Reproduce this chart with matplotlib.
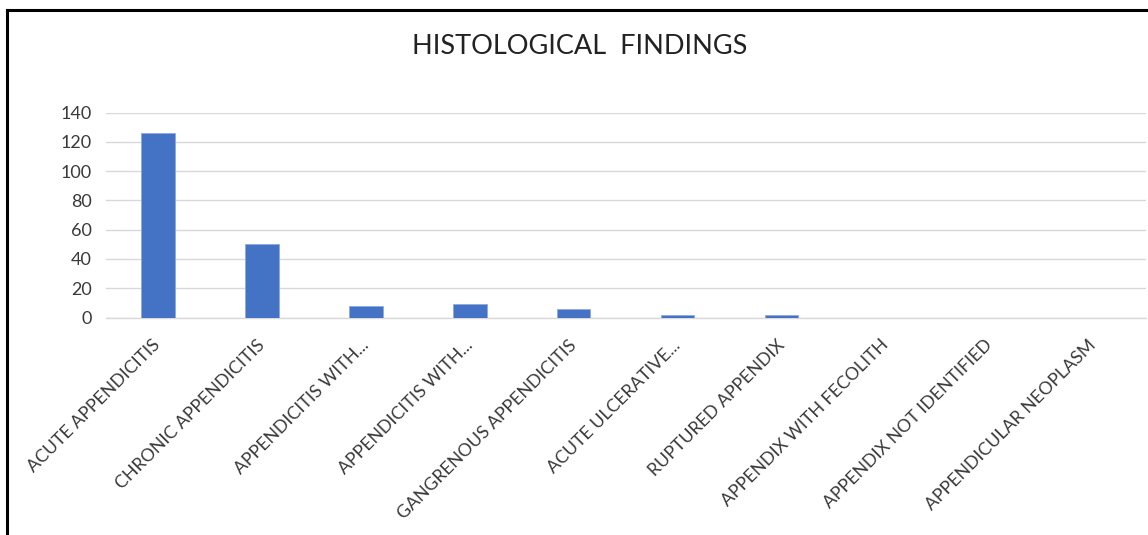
import matplotlib
matplotlib.use("Agg")
import matplotlib.pyplot as plt
from matplotlib.lines import Line2D

plt.rcParams["font.family"] = ["Lato", "DejaVu Sans"]

# histological findings (count of cases)
categories = [
    "ACUTE APPENDICITIS",
    "CHRONIC APPENDICITIS",
    "APPENDICITIS WITH...",
    "APPENDICITIS WITH...",
    "GANGRENOUS APPENDICITIS",
    "ACUTE ULCERATIVE...",
    "RUPTURED APPENDIX",
    "APPENDIX WITH FECOLITH",
    "APPENDIX NOT IDENTIFIED",
    "APPENDICULAR NEOPLASM",
]
counts = [126, 50, 8, 9, 6, 2, 2, 0, 0, 0]
y_ticks = [0, 20, 40, 60, 80, 100, 120, 140]

BAR_COLOR = "#4472C4"
GRID_COLOR = "#D9D9D9"
TEXT_COLOR = "#3A3A3A"

fig = plt.figure(figsize=(11.48, 5.35), dpi=100)
ax = fig.add_axes([0.0923, 0.4065, 0.9057, 0.3832])

x = list(range(len(categories)))
ax.bar(x, counts, width=0.32, color=BAR_COLOR, edgecolor="#8FAADC", linewidth=0.6, zorder=3)

ax.set_xlim(-0.5, len(categories) - 0.5)
ax.set_ylim(0, 140)
ax.set_yticks(y_ticks)
ax.yaxis.grid(True, color=GRID_COLOR, linewidth=1.0, zorder=0)
ax.set_axisbelow(True)

for side in ("top", "right", "left"):
    ax.spines[side].set_visible(False)
ax.spines["bottom"].set_color(GRID_COLOR)
ax.spines["bottom"].set_linewidth(1.0)

ax.tick_params(axis="y", length=0, pad=10, labelsize=13, labelcolor=TEXT_COLOR)
ax.tick_params(axis="x", length=0, pad=18)
ax.set_xticks(x)
ax.set_xticklabels(categories, rotation=45, ha="right", va="center",
                   rotation_mode="anchor", fontsize=12.8, color=TEXT_COLOR)

fig.text(0.505, 0.913, "HISTOLOGICAL  FINDINGS", ha="center", va="center",
         fontsize=19.5, color="#222222")

# chart frame (cropped: only top and left edges are visible)
fig.add_artist(Line2D([0.0061, 1.0], [0.981, 0.981], color="black", linewidth=2.2,
                      transform=fig.transFigure))
fig.add_artist(Line2D([0.0061, 0.0061], [0.0, 0.981], color="black", linewidth=2.2,
                      transform=fig.transFigure))

fig.savefig("out.png", dpi=100, facecolor="white")
